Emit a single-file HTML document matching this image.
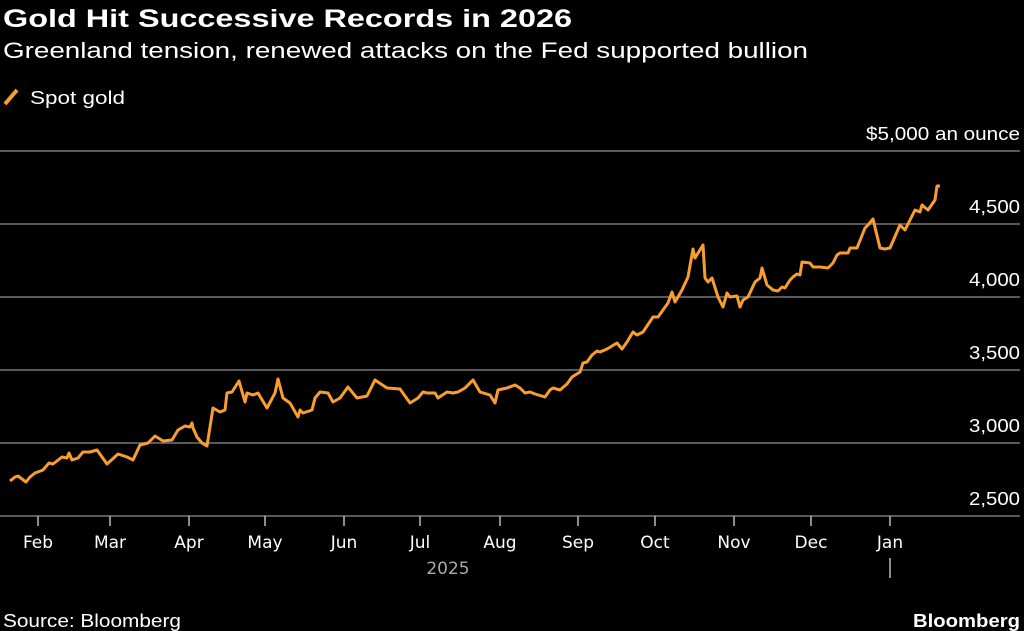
<!DOCTYPE html>
<html><head><meta charset="utf-8"><style>
html,body{margin:0;padding:0;background:#000;}
body{width:1024px;height:631px;overflow:hidden;font-family:"Liberation Sans","DejaVu Sans",sans-serif;color:#fff;}
</style></head><body>
<svg width="1024" height="631" xmlns="http://www.w3.org/2000/svg" style="position:absolute;left:0;top:0">
<rect width="1024" height="631" fill="#000"/>
<text x="3" y="27" font-family="Liberation Sans, sans-serif" font-size="25" font-weight="bold" fill="#fff" textLength="569" lengthAdjust="spacingAndGlyphs">Gold Hit Successive Records in 2026</text>
<text x="3" y="58" font-family="Liberation Sans, sans-serif" font-size="22" fill="#fff" textLength="805" lengthAdjust="spacingAndGlyphs">Greenland tension, renewed attacks on the Fed supported bullion</text>
<line x1="5" y1="104" x2="17" y2="90" stroke="#f89e2e" stroke-width="4"/>
<text x="30" y="104" font-family="Liberation Sans, sans-serif" font-size="18" fill="#fff" textLength="95" lengthAdjust="spacingAndGlyphs">Spot gold</text>
<g stroke="#777" stroke-width="1.5">
<line x1="0" y1="151" x2="1020" y2="151"/>
<line x1="0" y1="224" x2="1020" y2="224"/>
<line x1="0" y1="297" x2="1020" y2="297"/>
<line x1="0" y1="370" x2="1020" y2="370"/>
<line x1="0" y1="443" x2="1020" y2="443"/>
<line x1="0" y1="516" x2="1020" y2="516"/>
</g>
<g font-family="Liberation Sans, sans-serif" font-size="18" fill="#fff" text-anchor="end">
<text x="1020" y="140" textLength="154" lengthAdjust="spacingAndGlyphs">$5,000 an ounce</text>
<text x="1020" y="213" textLength="51" lengthAdjust="spacingAndGlyphs">4,500</text>
<text x="1020" y="286" textLength="51" lengthAdjust="spacingAndGlyphs">4,000</text>
<text x="1020" y="359" textLength="51" lengthAdjust="spacingAndGlyphs">3,500</text>
<text x="1020" y="432" textLength="51" lengthAdjust="spacingAndGlyphs">3,000</text>
<text x="1020" y="505" textLength="51" lengthAdjust="spacingAndGlyphs">2,500</text>
</g>
<g stroke="#bbb" stroke-width="1.5">
<line x1="38" y1="516" x2="38" y2="526"/><line x1="110" y1="516" x2="110" y2="526"/>
<line x1="189" y1="516" x2="189" y2="526"/><line x1="265" y1="516" x2="265" y2="526"/>
<line x1="344" y1="516" x2="344" y2="526"/><line x1="420" y1="516" x2="420" y2="526"/>
<line x1="500" y1="516" x2="500" y2="526"/><line x1="578" y1="516" x2="578" y2="526"/>
<line x1="655" y1="516" x2="655" y2="526"/><line x1="734" y1="516" x2="734" y2="526"/>
<line x1="811" y1="516" x2="811" y2="526"/><line x1="890" y1="516" x2="890" y2="526"/>
<line x1="890" y1="558" x2="890" y2="578"/>
</g>
<g font-family="DejaVu Sans, sans-serif" font-size="17" fill="#fff" text-anchor="middle">
<text x="38" y="548">Feb</text><text x="110" y="548">Mar</text><text x="189" y="548">Apr</text>
<text x="265" y="548">May</text><text x="344" y="548">Jun</text><text x="420" y="548">Jul</text>
<text x="500" y="548">Aug</text><text x="578" y="548">Sep</text><text x="655" y="548">Oct</text>
<text x="734" y="548">Nov</text><text x="811" y="548">Dec</text><text x="890" y="548">Jan</text>
<text x="448" y="574" fill="#aaa">2025</text>
</g>
<polyline fill="none" stroke="#f89e2e" stroke-width="3" stroke-linejoin="round" points="10,481 15,477 18,476 26,482 30,477 35,473 43,470 49,463 53,464 62,457 67,458 69,453 72,460 78,458 83,452 90,452 97,450 107,464 118,454 127,457 133,460 140,445 148,443 155,436 163,441 172,440 178,430 185,426 190,427 192,423 193,428 197,437 202,443 207,446 213,408 220,412 225,410 227,393 232,392 239,381 245,402 247,393 253,395 258,393 267,408 275,393 278,379 283,398 290,403 298,417 300,410 303,413 312,410 315,398 320,392 328,393 333,402 340,398 348,387 352,392 357,398 367,396 375,380 387,388 400,389 405,396 410,403 418,398 423,392 427,393 435,393 438,398 447,392 453,393 458,392 465,388 473,380 480,392 490,395 495,403 498,390 507,388 515,385 520,388 525,393 530,392 535,394 545,397 550,390 553,388 560,390 567,384 572,377 580,372 583,363 587,362 592,355 597,351 600,352 607,349 617,343 622,349 627,342 633,332 637,335 643,332 653,317 658,317 668,303 672,292 675,302 682,290 688,277 693,249 695,258 703,245 705,278 708,282 712,278 718,297 723,307 727,293 730,297 737,296 740,307 743,300 748,297 755,282 760,278 762,268 767,285 773,290 778,291 782,287 785,288 790,280 793,277 797,274 800,275 802,262 810,263 813,267 820,267 828,268 833,263 837,255 840,253 848,253 850,248 857,248 865,228 868,225 873,219 880,248 885,249 890,248 900,225 905,230 915,210 920,212 922,205 928,210 935,200 937,186 940,186"/>
<text x="3" y="627" font-family="Liberation Sans, sans-serif" font-size="18" fill="#fff" textLength="178" lengthAdjust="spacingAndGlyphs">Source: Bloomberg</text>
<text x="1020" y="627" font-family="Liberation Sans, sans-serif" font-size="18" font-weight="bold" fill="#fff" text-anchor="end" textLength="107" lengthAdjust="spacingAndGlyphs">Bloomberg</text>
</svg>
</body></html>
